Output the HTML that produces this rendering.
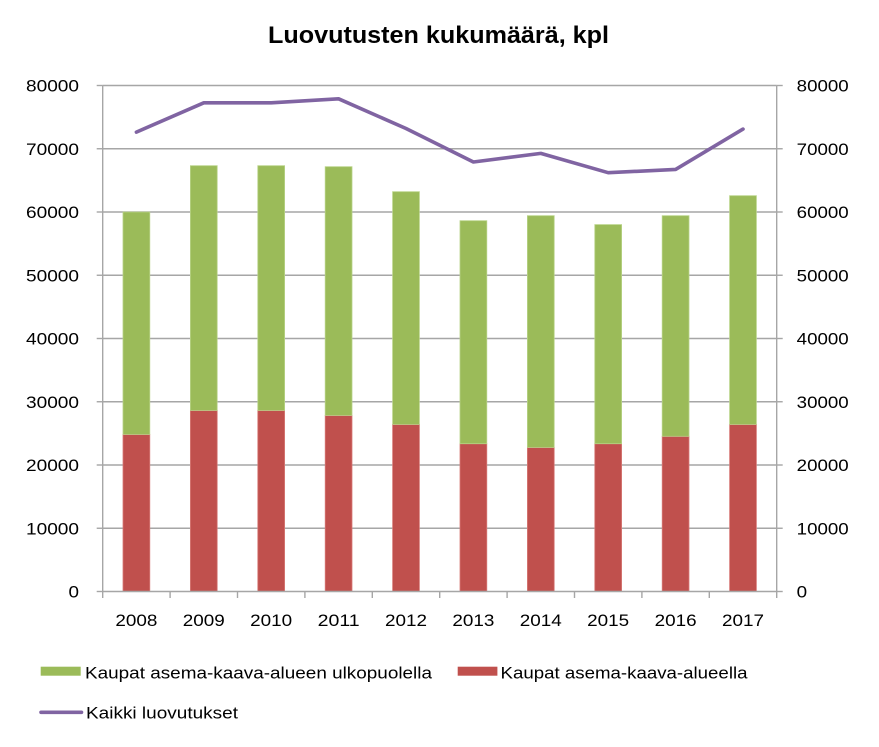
<!DOCTYPE html>
<html>
<head>
<meta charset="utf-8">
<style>
  html,body{margin:0;padding:0;background:#fff;}
  svg{display:block;}
  text{font-family:"Liberation Sans",sans-serif;fill:#000;}
</style>
</head>
<body>
<svg width="879" height="747" viewBox="0 0 879 747" xmlns="http://www.w3.org/2000/svg">
  <rect width="879" height="747" fill="#fff"/>
  <!-- Title -->
  <text x="268" y="43" font-size="24" font-weight="bold" textLength="341" lengthAdjust="spacingAndGlyphs">Luovutusten kukumäärä, kpl</text>

  <!-- Gridlines -->
  <g stroke="#a6a6a6" stroke-width="1.4">
    <line x1="102.7" y1="85.5" x2="776.7" y2="85.5"/>
    <line x1="102.7" y1="148.75" x2="776.7" y2="148.75"/>
    <line x1="102.7" y1="212" x2="776.7" y2="212"/>
    <line x1="102.7" y1="275.25" x2="776.7" y2="275.25"/>
    <line x1="102.7" y1="338.5" x2="776.7" y2="338.5"/>
    <line x1="102.7" y1="401.75" x2="776.7" y2="401.75"/>
    <line x1="102.7" y1="465" x2="776.7" y2="465"/>
    <line x1="102.7" y1="528.25" x2="776.7" y2="528.25"/>
    <!-- axes -->
    <line x1="102.7" y1="85.5" x2="102.7" y2="591.5"/>
    <line x1="776.7" y1="85.5" x2="776.7" y2="591.5"/>
    <!-- left ticks -->
    <line x1="96.7" y1="85.5" x2="102.7" y2="85.5"/>
    <line x1="96.7" y1="148.75" x2="102.7" y2="148.75"/>
    <line x1="96.7" y1="212" x2="102.7" y2="212"/>
    <line x1="96.7" y1="275.25" x2="102.7" y2="275.25"/>
    <line x1="96.7" y1="338.5" x2="102.7" y2="338.5"/>
    <line x1="96.7" y1="401.75" x2="102.7" y2="401.75"/>
    <line x1="96.7" y1="465" x2="102.7" y2="465"/>
    <line x1="96.7" y1="528.25" x2="102.7" y2="528.25"/>
    <line x1="96.7" y1="591.5" x2="102.7" y2="591.5"/>
    <!-- right ticks -->
    <line x1="776.7" y1="85.5" x2="782.7" y2="85.5"/>
    <line x1="776.7" y1="148.75" x2="782.7" y2="148.75"/>
    <line x1="776.7" y1="212" x2="782.7" y2="212"/>
    <line x1="776.7" y1="275.25" x2="782.7" y2="275.25"/>
    <line x1="776.7" y1="338.5" x2="782.7" y2="338.5"/>
    <line x1="776.7" y1="401.75" x2="782.7" y2="401.75"/>
    <line x1="776.7" y1="465" x2="782.7" y2="465"/>
    <line x1="776.7" y1="528.25" x2="782.7" y2="528.25"/>
    <line x1="776.7" y1="591.5" x2="782.7" y2="591.5"/>
  </g>

  <!-- Bars: red (bottom) -->
  <g fill="#C0504D" stroke="#d77a77" stroke-width="0.8">
    <rect x="123" y="434.4" width="26.8" height="157.1"/>
    <rect x="190.4" y="410.4" width="26.8" height="181.1"/>
    <rect x="257.8" y="410.4" width="26.8" height="181.1"/>
    <rect x="325.2" y="415.4" width="26.8" height="176.1"/>
    <rect x="392.6" y="424.4" width="26.8" height="167.1"/>
    <rect x="460" y="443.7" width="26.8" height="147.8"/>
    <rect x="527.4" y="447.4" width="26.8" height="144.1"/>
    <rect x="594.8" y="443.7" width="26.8" height="147.8"/>
    <rect x="662.2" y="436.3" width="26.8" height="155.2"/>
    <rect x="729.6" y="424.4" width="26.8" height="167.1"/>
  </g>
  <!-- Bars: green (top) -->
  <g fill="#9BBB59" stroke="#b8d387" stroke-width="0.8">
    <rect x="123" y="212" width="26.8" height="222.4"/>
    <rect x="190.4" y="165.7" width="26.8" height="244.7"/>
    <rect x="257.8" y="165.7" width="26.8" height="244.7"/>
    <rect x="325.2" y="166.7" width="26.8" height="248.7"/>
    <rect x="392.6" y="191.7" width="26.8" height="232.7"/>
    <rect x="460" y="220.7" width="26.8" height="223"/>
    <rect x="527.4" y="215.7" width="26.8" height="231.7"/>
    <rect x="594.8" y="224.6" width="26.8" height="219.1"/>
    <rect x="662.2" y="215.7" width="26.8" height="220.6"/>
    <rect x="729.6" y="195.7" width="26.8" height="228.7"/>
  </g>

  <!-- Bottom axis and ticks -->
  <g stroke="#a6a6a6" stroke-width="1.4">
    <line x1="102.7" y1="591.5" x2="776.7" y2="591.5"/>
    <line x1="102.7" y1="591.5" x2="102.7" y2="598"/>
    <line x1="170.1" y1="591.5" x2="170.1" y2="598"/>
    <line x1="237.5" y1="591.5" x2="237.5" y2="598"/>
    <line x1="304.9" y1="591.5" x2="304.9" y2="598"/>
    <line x1="372.3" y1="591.5" x2="372.3" y2="598"/>
    <line x1="439.7" y1="591.5" x2="439.7" y2="598"/>
    <line x1="507.1" y1="591.5" x2="507.1" y2="598"/>
    <line x1="574.5" y1="591.5" x2="574.5" y2="598"/>
    <line x1="641.9" y1="591.5" x2="641.9" y2="598"/>
    <line x1="709.3" y1="591.5" x2="709.3" y2="598"/>
    <line x1="776.7" y1="591.5" x2="776.7" y2="598"/>
  </g>

  <!-- Line series -->
  <polyline fill="none" stroke="#8064A2" stroke-width="3.6" stroke-linejoin="round" stroke-linecap="round"
    points="136.4,132.1 203.8,102.8 271.2,102.8 338.6,98.8 406,128.5 473.4,162 540.8,153.4 608.2,172.7 675.6,169.4 743,129.1"/>

  <!-- Left axis labels -->
  <g font-size="17">
    <text x="26" y="91.5" textLength="53" lengthAdjust="spacingAndGlyphs">80000</text>
    <text x="26" y="154.75" textLength="53" lengthAdjust="spacingAndGlyphs">70000</text>
    <text x="26" y="218" textLength="53" lengthAdjust="spacingAndGlyphs">60000</text>
    <text x="26" y="281.25" textLength="53" lengthAdjust="spacingAndGlyphs">50000</text>
    <text x="26" y="344.5" textLength="53" lengthAdjust="spacingAndGlyphs">40000</text>
    <text x="26" y="407.75" textLength="53" lengthAdjust="spacingAndGlyphs">30000</text>
    <text x="26" y="471" textLength="53" lengthAdjust="spacingAndGlyphs">20000</text>
    <text x="26" y="534.25" textLength="53" lengthAdjust="spacingAndGlyphs">10000</text>
    <text x="68.5" y="597.5" textLength="10.5" lengthAdjust="spacingAndGlyphs">0</text>
  </g>
  <!-- Right axis labels -->
  <g font-size="17">
    <text x="796.7" y="91.5" textLength="52" lengthAdjust="spacingAndGlyphs">80000</text>
    <text x="796.7" y="154.75" textLength="52" lengthAdjust="spacingAndGlyphs">70000</text>
    <text x="796.7" y="218" textLength="52" lengthAdjust="spacingAndGlyphs">60000</text>
    <text x="796.7" y="281.25" textLength="52" lengthAdjust="spacingAndGlyphs">50000</text>
    <text x="796.7" y="344.5" textLength="52" lengthAdjust="spacingAndGlyphs">40000</text>
    <text x="796.7" y="407.75" textLength="52" lengthAdjust="spacingAndGlyphs">30000</text>
    <text x="796.7" y="471" textLength="52" lengthAdjust="spacingAndGlyphs">20000</text>
    <text x="796.7" y="534.25" textLength="52" lengthAdjust="spacingAndGlyphs">10000</text>
    <text x="796.7" y="597.5" textLength="10.5" lengthAdjust="spacingAndGlyphs">0</text>
  </g>

  <!-- X axis labels -->
  <g font-size="17">
    <text x="115.4" y="626" textLength="42" lengthAdjust="spacingAndGlyphs">2008</text>
    <text x="182.8" y="626" textLength="42" lengthAdjust="spacingAndGlyphs">2009</text>
    <text x="250.2" y="626" textLength="42" lengthAdjust="spacingAndGlyphs">2010</text>
    <text x="317.6" y="626" textLength="42" lengthAdjust="spacingAndGlyphs">2011</text>
    <text x="385" y="626" textLength="42" lengthAdjust="spacingAndGlyphs">2012</text>
    <text x="452.4" y="626" textLength="42" lengthAdjust="spacingAndGlyphs">2013</text>
    <text x="519.8" y="626" textLength="42" lengthAdjust="spacingAndGlyphs">2014</text>
    <text x="587.2" y="626" textLength="42" lengthAdjust="spacingAndGlyphs">2015</text>
    <text x="654.6" y="626" textLength="42" lengthAdjust="spacingAndGlyphs">2016</text>
    <text x="722" y="626" textLength="42" lengthAdjust="spacingAndGlyphs">2017</text>
  </g>

  <!-- Legend -->
  <rect x="40.7" y="666.7" width="40" height="9" fill="#9BBB59"/>
  <text x="85" y="678.3" font-size="17" textLength="347" lengthAdjust="spacingAndGlyphs">Kaupat asema-kaava-alueen ulkopuolella</text>
  <rect x="457.7" y="666.7" width="39.7" height="9" fill="#C0504D"/>
  <text x="500.5" y="678.3" font-size="17" textLength="247" lengthAdjust="spacingAndGlyphs">Kaupat asema-kaava-alueella</text>
  <line x1="41" y1="712.3" x2="81.5" y2="712.3" stroke="#8064A2" stroke-width="3.6" stroke-linecap="round"/>
  <text x="86" y="718.3" font-size="17" textLength="152" lengthAdjust="spacingAndGlyphs">Kaikki luovutukset</text>
</svg>
</body>
</html>
